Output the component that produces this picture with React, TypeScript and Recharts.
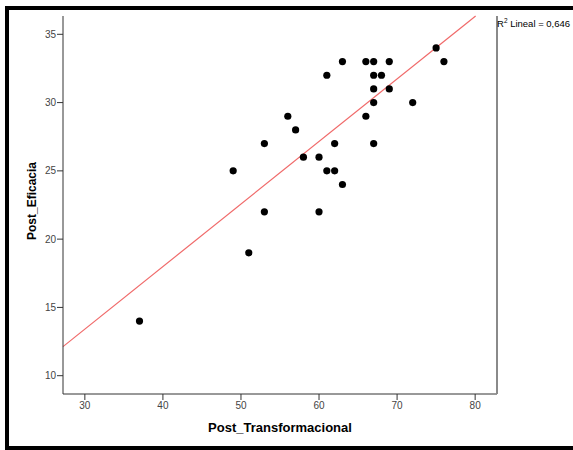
import React from 'react';
import { ScatterChart, Scatter, XAxis, YAxis, ReferenceLine } from 'recharts';

const postTransformacional = [37, 49, 51, 53, 53, 56, 57, 58, 60, 60, 61, 61, 62, 62, 63, 63, 66, 66, 67, 67, 67, 67, 67, 68, 69, 69, 72, 75, 76];
const postEficacia = [14, 25, 19, 22, 27, 29, 28, 26, 22, 26, 25, 32, 25, 27, 24, 33, 29, 33, 27, 30, 31, 32, 33, 32, 31, 33, 30, 34, 33];
const xTicks = [30, 40, 50, 60, 70, 80];
const yTicks = [10, 15, 20, 25, 30, 35];
const xDomain = [27.2, 82.8];
const yDomain = [8.66, 36.34];
const fitSlope = 0.458;
const fitIntercept = -0.33;
const r2Text = '0,646';
const xLabel = 'Post_Transformacional';
const yLabel = 'Post_Eficacia';

const points = postTransformacional.map((x, i) => ({ x, y: postEficacia[i] }));
const fitStartX = xDomain[0];
const fitEndX = Math.min(xDomain[1], (yDomain[1] - fitIntercept) / fitSlope);
const fitSegment = [
  { x: fitStartX, y: fitIntercept + fitSlope * fitStartX },
  { x: fitEndX, y: fitIntercept + fitSlope * fitEndX },
];

const tickStyle = { fontFamily: '"Liberation Sans", Arial, sans-serif', fontSize: 10, fill: '#444' };

const Dot = (props: any) => <circle cx={props.cx} cy={props.cy} r={3.6} fill="#000" />;

const XLabelC = (props: any) => {
  const vb = props.viewBox || {};
  return (
    <text x={vb.x + vb.width / 2} y={vb.y + 38} textAnchor="middle" fontFamily='"Liberation Sans", Arial, sans-serif' fontWeight="bold" fontSize={13} fill="#000">
      {xLabel}
    </text>
  );
};

const YLabelC = (props: any) => {
  const vb = props.viewBox || {};
  const cx = 36;
  const cy = vb.y + vb.height / 2 - 4;
  return (
    <text x={cx} y={cy} transform={`rotate(-90 ${cx} ${cy})`} textAnchor="middle" fontFamily='"Liberation Sans", Arial, sans-serif' fontWeight="bold" fontSize={12} fill="#000">
      {yLabel}
    </text>
  );
};

const R2LabelC = (props: any) => {
  const vb = props.viewBox || {};
  return (
    <text x={vb.x} y={vb.y + 11} fontFamily='"Liberation Sans", Arial, sans-serif' fontSize={9.5} fill="#000">
      <tspan>R</tspan>
      <tspan dy={-4} fontSize={6.5}>2</tspan>
      <tspan dy={4}>{' Lineal = ' + r2Text}</tspan>
    </text>
  );
};

export default function App() {
  return (
    <div style={{ position: 'absolute', left: 0, top: 0, width: 573, height: 450, overflow: 'hidden', background: '#fff' }}>
      <div style={{ position: 'absolute', left: 5, top: 6, width: 700, height: 444, border: '4px solid #000', boxSizing: 'border-box' }} />
      <div style={{ position: 'absolute', left: 0, top: 0 }}>
        <ScatterChart width={573} height={450} margin={{ top: 16, right: 0, bottom: 0, left: 0 }}>
          <XAxis
            xAxisId="b"
            dataKey="x"
            type="number"
            domain={xDomain}
            ticks={xTicks}
            allowDataOverflow
            height={56}
            tickSize={6}
            tickMargin={2}
            tick={tickStyle}
            axisLine={{ stroke: '#333' }}
            tickLine={{ stroke: '#333' }}
            label={<XLabelC />}
          />
          <XAxis xAxisId="t" orientation="top" type="number" domain={xDomain} height={0} tick={false} tickLine={false} axisLine={{ stroke: '#8a8a8a', strokeWidth: 1.5 }} />
          <YAxis
            yAxisId="l"
            dataKey="y"
            type="number"
            domain={yDomain}
            ticks={yTicks}
            allowDataOverflow
            width={63}
            tickSize={6}
            tickMargin={1}
            tick={tickStyle}
            axisLine={{ stroke: '#333' }}
            tickLine={{ stroke: '#333' }}
            label={<YLabelC />}
          />
          <YAxis yAxisId="r" orientation="right" type="number" domain={yDomain} width={76} tick={false} tickLine={false} axisLine={{ stroke: '#8a8a8a', strokeWidth: 2 }} label={<R2LabelC />} />
          <ReferenceLine xAxisId="b" yAxisId="l" segment={fitSegment} stroke="#f06a6a" strokeWidth={1.2} ifOverflow="visible" />
          <Scatter xAxisId="b" yAxisId="l" data={points} shape={<Dot />} isAnimationActive={false} />
        </ScatterChart>
      </div>
    </div>
  );
}
